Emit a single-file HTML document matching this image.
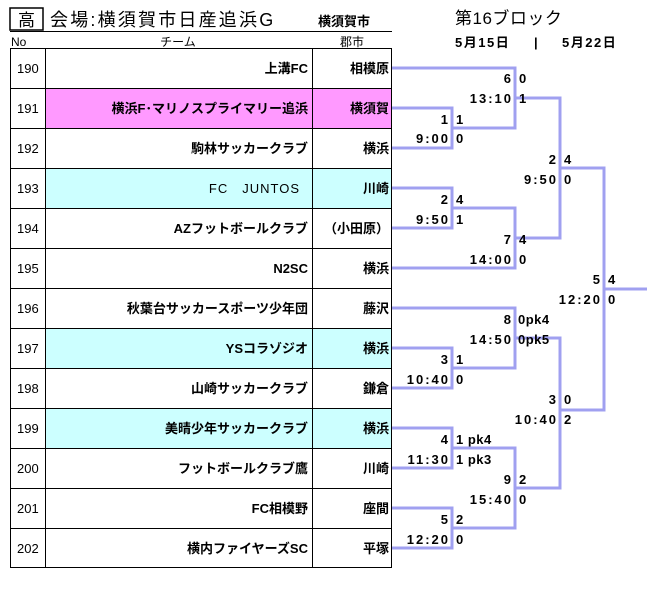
<!DOCTYPE html>
<html><head><meta charset="utf-8"><style>
html,body{margin:0;padding:0;background:#fff;}
svg{display:block;}
text{font-family:"Liberation Sans","Noto Sans CJK JP",sans-serif;}
.t{font-size:13px;font-weight:bold;text-anchor:end;}
.n{font-size:13px;}
.b{font-size:13px;font-weight:bold;letter-spacing:2px;}
.br{font-size:13px;font-weight:bold;text-anchor:end;letter-spacing:2px;}
</style></head><body>
<svg width="647" height="591" xmlns="http://www.w3.org/2000/svg">
<rect x="10" y="8" width="33" height="22" fill="none" stroke="#000" stroke-width="1.5"/>
<text x="26.5" y="26" font-size="17" text-anchor="middle">高</text>
<text x="50" y="26" font-size="18" letter-spacing="2.2">会場:横須賀市日産追浜G</text>
<text x="318" y="26" font-size="13" font-weight="bold">横須賀市</text>
<line x1="10" y1="31.5" x2="392" y2="31.5" stroke="#000" stroke-width="1"/>
<text x="11" y="46" font-size="12">No</text>
<text x="178" y="46" font-size="12" text-anchor="middle">チーム</text>
<text x="352" y="46" font-size="12" text-anchor="middle">郡市</text>
<text x="455" y="24" font-size="17" letter-spacing="0.5">第16ブロック</text>
<text x="455" y="47" font-size="13" font-weight="bold" letter-spacing="1.5">5月15日</text>
<text x="534" y="47" font-size="13" font-weight="bold">|</text>
<text x="562" y="47" font-size="13" font-weight="bold" letter-spacing="1.5">5月22日</text>

<rect x="46" y="88" width="346" height="40" fill="#ff99ff"/>
<rect x="46" y="168" width="346" height="40" fill="#ccffff"/>
<rect x="46" y="328" width="346" height="40" fill="#ccffff"/>
<rect x="46" y="408" width="346" height="40" fill="#ccffff"/>
<g stroke="#000" stroke-width="1" fill="none">
<rect x="10.5" y="48.5" width="381" height="519"/>
<line x1="45.5" y1="48" x2="45.5" y2="568"/>
<line x1="312.5" y1="48" x2="312.5" y2="568"/>
<line x1="10" y1="88.5" x2="392" y2="88.5"/><line x1="10" y1="128.5" x2="392" y2="128.5"/>
<line x1="10" y1="168.5" x2="392" y2="168.5"/><line x1="10" y1="208.5" x2="392" y2="208.5"/>
<line x1="10" y1="248.5" x2="392" y2="248.5"/><line x1="10" y1="288.5" x2="392" y2="288.5"/>
<line x1="10" y1="328.5" x2="392" y2="328.5"/><line x1="10" y1="368.5" x2="392" y2="368.5"/>
<line x1="10" y1="408.5" x2="392" y2="408.5"/><line x1="10" y1="448.5" x2="392" y2="448.5"/>
<line x1="10" y1="488.5" x2="392" y2="488.5"/><line x1="10" y1="528.5" x2="392" y2="528.5"/>
</g>
<g class="n" font-size="13">
<text x="17" y="73">190</text><text x="17" y="113">191</text><text x="17" y="153">192</text>
<text x="17" y="193">193</text><text x="17" y="233">194</text><text x="17" y="273">195</text>
<text x="17" y="313">196</text><text x="17" y="353">197</text><text x="17" y="393">198</text>
<text x="17" y="433">199</text><text x="17" y="473">200</text><text x="17" y="513">201</text>
<text x="17" y="553">202</text>
</g>
<g class="t">
<text x="308" y="73">上溝FC</text><text x="308" y="113">横浜F･マリノスプライマリー追浜</text>
<text x="308" y="153">駒林サッカークラブ</text><text x="300" y="193" font-weight="normal" letter-spacing="1">FC　JUNTOS</text>
<text x="308" y="233">AZフットボールクラブ</text><text x="308" y="273">N2SC</text>
<text x="308" y="313">秋葉台サッカースポーツ少年団</text><text x="308" y="353">YSコラゾジオ</text>
<text x="308" y="393">山崎サッカークラブ</text><text x="308" y="433">美晴少年サッカークラブ</text>
<text x="308" y="473">フットボールクラブ鷹</text><text x="308" y="513">FC相模野</text>
<text x="308" y="553">横内ファイヤーズSC</text>
<text x="389" y="73">相模原</text><text x="389" y="113">横須賀</text><text x="389" y="153">横浜</text>
<text x="389" y="193">川崎</text><text x="389" y="233">（小田原）</text><text x="389" y="273">横浜</text>
<text x="389" y="313">藤沢</text><text x="389" y="353">横浜</text><text x="389" y="393">鎌倉</text>
<text x="389" y="433">横浜</text><text x="389" y="473">川崎</text><text x="389" y="513">座間</text>
<text x="389" y="553">平塚</text>
</g>
<g stroke="#a0a0f0" stroke-width="3" fill="none">
<polyline points="392,68 515,68 515,128 452,128"/>
<polyline points="392,108 452,108 452,148 392,148"/>
<polyline points="392,188 452,188 452,228 392,228"/>
<polyline points="452,208 515,208 515,268 392,268"/>
<polyline points="515,98 560,98 560,238 515,238"/>
<polyline points="560,168 604,168 604,410 560,410"/>
<line x1="604" y1="289" x2="647" y2="289"/>
<polyline points="392,308 515,308 515,368 452,368"/>
<polyline points="392,348 452,348 452,388 392,388"/>
<polyline points="392,428 452,428 452,468 392,468"/>
<polyline points="392,508 452,508 452,548 392,548"/>
<polyline points="452,448 515,448 515,528 452,528"/>
<polyline points="515,338 560,338 560,488 515,488"/>
</g>
<g class="br">
<text x="450" y="124">1</text><text x="450" y="143">9:00</text>
<text x="513" y="83">6</text><text x="513" y="103">13:10</text>
<text x="450" y="204">2</text><text x="450" y="224">9:50</text>
<text x="513" y="244">7</text><text x="513" y="264">14:00</text>
<text x="558" y="164">2</text><text x="558" y="184">9:50</text>
<text x="602" y="284">5</text><text x="602" y="304">12:20</text>
<text x="513" y="324">8</text><text x="513" y="344">14:50</text>
<text x="450" y="364">3</text><text x="450" y="384">10:40</text>
<text x="558" y="404">3</text><text x="558" y="424">10:40</text>
<text x="450" y="444">4</text><text x="450" y="464">11:30</text>
<text x="513" y="484">9</text><text x="513" y="504">15:40</text>
<text x="450" y="524">5</text><text x="450" y="544">12:20</text>
</g>
<g class="b">
<text x="456" y="124">1</text><text x="456" y="143">0</text>
<text x="519" y="83">0</text><text x="519" y="103">1</text>
<text x="456" y="204">4</text><text x="456" y="224">1</text>
<text x="519" y="244">4</text><text x="519" y="264">0</text>
<text x="564" y="164">4</text><text x="564" y="184">0</text>
<text x="608" y="284">4</text><text x="608" y="304">0</text>
<text x="518" y="324" letter-spacing="0.5">0pk4</text><text x="518" y="344" letter-spacing="0.5">0pk5</text>
<text x="456" y="364">1</text><text x="456" y="384">0</text>
<text x="564" y="404">0</text><text x="564" y="424">2</text>
<text x="456" y="444" letter-spacing="0.5">1 pk4</text><text x="456" y="464" letter-spacing="0.5">1 pk3</text>
<text x="519" y="484">2</text><text x="519" y="504">0</text>
<text x="456" y="524">2</text><text x="456" y="544">0</text>
</g>
</svg>
</body></html>
